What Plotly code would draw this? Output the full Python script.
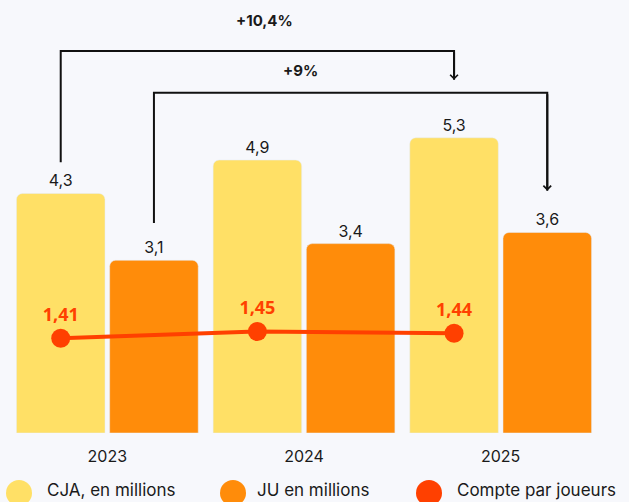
import plotly.graph_objects as go

# ---- data ----
years = ["2023", "2024", "2025"]
cja = [4.3, 4.9, 5.3]          # CJA, en millions
ju = [3.1, 3.4, 3.6]           # JU en millions
ratio = [1.41, 1.45, 1.44]     # Compte par joueurs
series_names = ["CJA, en millions", "JU en millions", "Compte par joueurs"]
growth_cja = "+10,4%"
growth_ju = "+9%"

# ---- style ----
BG = "#F7F8FC"
YELLOW = "#FFE066"
ORANGE = "#FF8C0A"
RED = "#FF4000"
TXT = "#1A1A1A"
FONT = "Inter"
W, H = 629, 502
ML, MR, MT, MB = 9, 30, 10, 69
PW, PH = W - ML - MR, H - MT - MB

BARGAP = 0.052
BARGROUPGAP = 0.05
slot = (1 - BARGAP) / 2          # width of one bar slot in category units
idx = list(range(len(years)))
x_cja = [i - slot / 2 for i in idx]   # centres of the CJA bars
x_ju = [i + slot / 2 for i in idx]    # centres of the JU bars

fig = go.Figure()

fig.add_trace(go.Bar(
    x=years, y=cja, name=series_names[0], marker_color=YELLOW,
    texttemplate="%{y:.1f}", textposition="outside",
    textfont=dict(family=FONT, size=16, color=TXT),
    cliponaxis=False, showlegend=False, hoverinfo="skip",
))
fig.add_trace(go.Bar(
    x=years, y=ju, name=series_names[1], marker_color=ORANGE,
    texttemplate="%{y:.1f}", textposition="outside",
    textfont=dict(family=FONT, size=16, color=TXT),
    cliponaxis=False, showlegend=False, hoverinfo="skip",
))
fig.add_trace(go.Scatter(
    x=x_cja, y=ratio, xaxis="x2", yaxis="y2", name=series_names[2],
    mode="lines+markers+text",
    line=dict(color=RED, width=4),
    marker=dict(color=RED, size=19),
    texttemplate="<b>%{y:.2f}</b>", textposition="top center",
    textfont=dict(family="Open Sans", size=18, color=RED),
    cliponaxis=False, showlegend=False, hoverinfo="skip",
))

# ---- growth brackets ----
LINE = dict(color="#111111", width=2)

def bracket(x0, y0_val, x1, y1_val, start_gap, top_level, end_gap, label, lx, ly):
    ys = y0_val + start_gap
    ye = y1_val + end_gap
    fig.add_shape(type="path", xref="x2", yref="y",
                  path=f"M {x0},{ys} L {x0},{top_level} L {x1},{top_level} L {x1},{ye}",
                  line=LINE)
    fig.add_annotation(x=x1, y=ye, ax=x1, ay=top_level, xref="x2", yref="y",
                       axref="x2", ayref="y", text="", showarrow=True,
                       arrowhead=4, arrowsize=0.75, arrowwidth=2,
                       arrowcolor="#111111", standoff=0, startstandoff=0)
    fig.add_annotation(x=lx, y=ly, xref="x2", yref="y", text=f"<b>{label}</b>",
                       showarrow=False,
                       font=dict(family=FONT, size=15, color=TXT))

bracket(x_cja[0], cja[0], x_cja[2], cja[2], 0.56, 6.86, 1.04, growth_cja, 0.80, 7.40)
bracket(x_ju[0], ju[0], x_ju[2], ju[2], 0.67, 6.11, 0.75, growth_ju, 0.98, 6.50)

# ---- legend (circle + label, drawn in paper space) ----
def px_x(px):
    return (px - ML) / PW

def px_y(py):
    return (H - MB - py) / PH

LEG_Y = 493
LEG_TY = 490
LEG_R = 13
legend_items = [(series_names[0], YELLOW, 19, 45),
                (series_names[1], ORANGE, 233, 255),
                (series_names[2], RED, 429, 455)]
for name, col, cx, tx in legend_items:
    fig.add_shape(type="circle", xref="paper", yref="paper",
                  x0=px_x(cx - LEG_R), x1=px_x(cx + LEG_R),
                  y0=px_y(LEG_Y + LEG_R), y1=px_y(LEG_Y - LEG_R),
                  fillcolor=col, line=dict(width=0))
    fig.add_annotation(x=px_x(tx), y=px_y(LEG_TY), xref="paper", yref="paper",
                       text=name, showarrow=False, xanchor="left", yanchor="middle",
                       font=dict(family=FONT, size=17, color=TXT))

fig.update_layout(
    width=W, height=H,
    margin=dict(l=ML, r=MR, t=MT, b=MB, autoexpand=False),
    paper_bgcolor=BG, plot_bgcolor=BG,
    barmode="group", bargap=BARGAP, bargroupgap=BARGROUPGAP,
    barcornerradius=6,
    separators=", ",
    font=dict(family=FONT, color=TXT),
    xaxis=dict(type="category", range=[-0.5, 2.5], showgrid=False, zeroline=False,
               showline=False, ticks="", ticklabelstandoff=12,
               tickfont=dict(family=FONT, size=16, color=TXT)),
    xaxis2=dict(overlaying="x", range=[-0.5, 2.5], visible=False),
    yaxis=dict(range=[0, 7.594], visible=False, showgrid=False, zeroline=False),
    yaxis2=dict(overlaying="y", range=[0.846, 3.364], visible=False,
                showgrid=False, zeroline=False),
    showlegend=False,
)

fig.write_html(
    "out.html",
    config={"displayModeBar": False},
    post_script="document.body.style.margin='0';document.body.style.background='%s';" % BG,
)
